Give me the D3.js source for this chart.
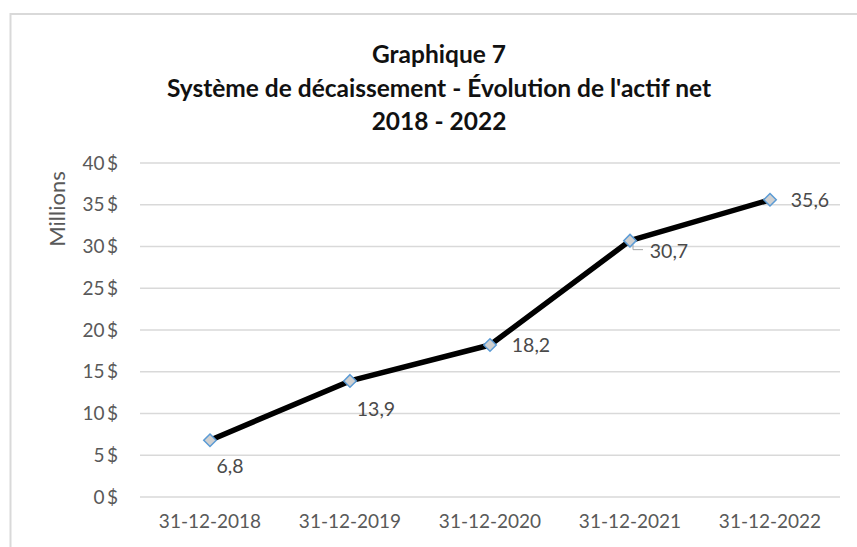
<!DOCTYPE html>
<html><head><meta charset="utf-8">
<script src="https://cdn.jsdelivr.net/npm/d3@7"></script>
<style>body{margin:0;background:#fff}svg{display:block}</style>
</head><body>
<script>
const categories = ["31-12-2018","31-12-2019","31-12-2020","31-12-2021","31-12-2022"];
const values = [6.8, 13.9, 18.2, 30.7, 35.6];
const valueLabels = ["6,8","13,9","18,2","30,7","35,6"];
const yTicks = [0,5,10,15,20,25,30,35,40];
const titleLines = ["Graphique 7","Système de décaissement - Évolution de l'actif net","2018 - 2022"];
const yTitle = "Millions";

const W = 857, H = 547;
const svg = d3.select("body").append("svg").attr("width", W).attr("height", H);
svg.append("rect").attr("x",10.5).attr("y",14).attr("width",W).attr("height",H)
  .attr("fill","#fff").attr("stroke","#d9d9d9").attr("stroke-width",2);

const m = {left:140, right:840, top:163, bottom:497};
const x = d3.scaleBand().domain(categories).range([m.left, m.right]);
const y = d3.scaleLinear().domain([0,40]).range([m.bottom, m.top]);
const font = "Lato, 'Open Sans', sans-serif";

// title
svg.append("g").selectAll("text").data(titleLines).join("text")
  .attr("x", 439).attr("y", (d,i)=>63 + i*33.5)
  .attr("text-anchor","middle").attr("font-family",font).attr("font-weight","bold")
  .attr("font-size",24.5).attr("fill","#111").text(d=>d);

// gridlines
svg.append("g").selectAll("line").data(yTicks).join("line")
  .attr("x1",m.left).attr("x2",m.right).attr("y1",d=>y(d)).attr("y2",d=>y(d))
  .attr("stroke","#d9d9d9").attr("stroke-width",1.5);

// y axis labels
const yAxis = svg.append("g").attr("transform",`translate(${m.left},0)`)
  .call(d3.axisLeft(y).tickValues(yTicks).tickSize(0).tickPadding(22).tickFormat(d=>d+"\u2009$"));
yAxis.select(".domain").remove();
yAxis.selectAll("text").attr("font-family",font).attr("font-size",19).attr("fill","#595959");

// x axis labels
const xAxis = svg.append("g").attr("transform",`translate(0,${m.bottom})`)
  .call(d3.axisBottom(x).tickSize(0).tickPadding(18));
xAxis.select(".domain").remove();
xAxis.selectAll("text").attr("font-family",font).attr("font-size",19).attr("fill","#595959");

// y title
svg.append("text").attr("transform","translate(65,209) rotate(-90)")
  .attr("text-anchor","middle").attr("font-family",font).attr("font-size",22)
  .attr("fill","#595959").text(yTitle);

// line
const cx = d => x(d) + x.bandwidth()/2;
const pts = categories.map((c,i)=>({c, v:values[i], l:valueLabels[i]}));
svg.append("path").datum(pts)
  .attr("d", d3.line().x(d=>cx(d.c)).y(d=>y(d.v)))
  .attr("fill","none").attr("stroke","#000").attr("stroke-width",5.5).attr("stroke-linejoin","round");

// leader line for 30,7
const p3 = pts[3];
svg.append("path")
  .attr("d", `M${cx(p3.c)+3},${y(p3.v)+4} L${cx(p3.c)+3},${y(p3.v)+9} L${cx(p3.c)+13},${y(p3.v)+9}`)
  .attr("fill","none").attr("stroke","#a6a6a6").attr("stroke-width",1);

// markers
svg.append("g").selectAll("path").data(pts).join("path")
  .attr("transform", d=>`translate(${cx(d.c)},${y(d.v)})`)
  .attr("d", d3.symbol(d3.symbolDiamond2, 100))
  .attr("fill","#d0d0d0").attr("stroke","#5b9bd5").attr("stroke-width",1.5);

// data labels
const offs = [[20,33],[26,35],[41,7],[39,17],[40,7]];
svg.append("g").selectAll("text").data(pts).join("text")
  .attr("x",(d,i)=>cx(d.c)+offs[i][0]).attr("y",(d,i)=>y(d.v)+offs[i][1])
  .attr("text-anchor","middle").attr("font-family",font).attr("font-size",19.5)
  .attr("fill","#4a4a4a").text(d=>d.l);
</script>
</body></html>
